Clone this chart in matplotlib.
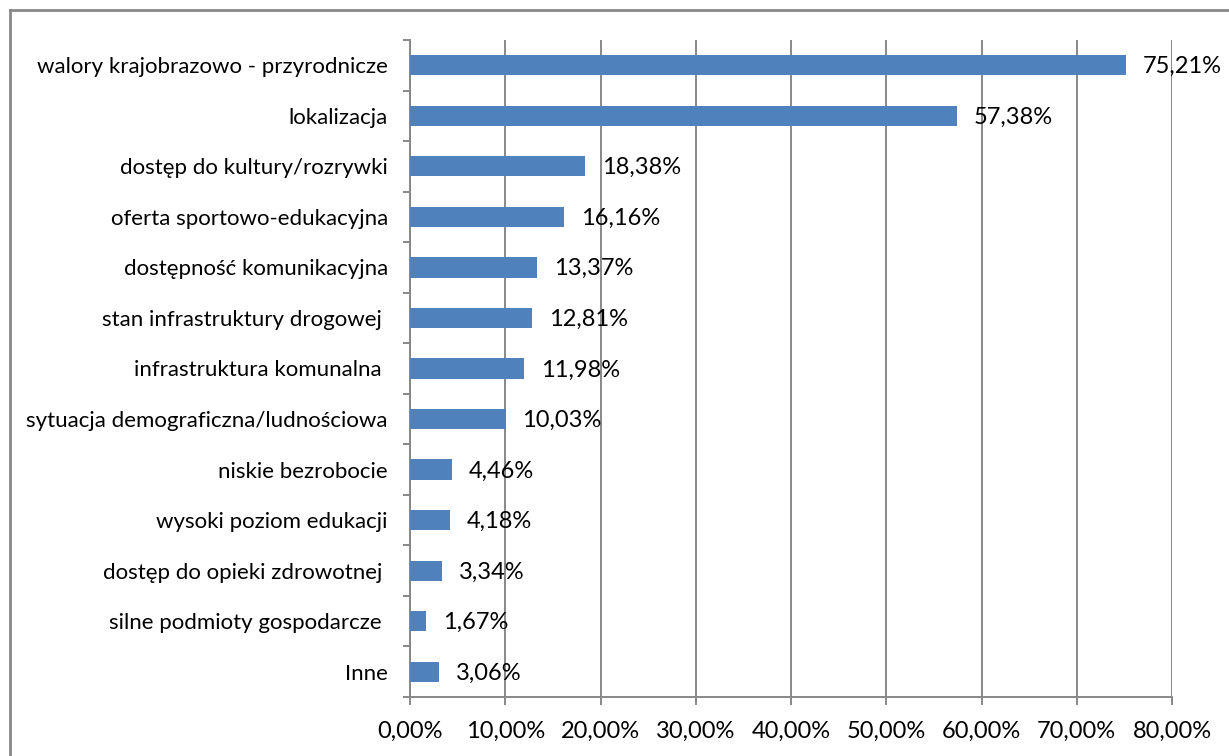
import matplotlib
matplotlib.use('Agg')
import matplotlib.pyplot as plt
from matplotlib.lines import Line2D
from matplotlib.ticker import FixedLocator, FuncFormatter

plt.rcParams['font.family'] = ['Lato', 'DejaVu Sans']

categories = [
    'walory krajobrazowo - przyrodnicze',
    'lokalizacja',
    'dostęp do kultury/rozrywki',
    'oferta sportowo-edukacyjna',
    'dostępność komunikacyjna',
    'stan infrastruktury drogowej ',
    'infrastruktura komunalna ',
    'sytuacja demograficzna/ludnościowa',
    'niskie bezrobocie',
    'wysoki poziom edukacji',
    'dostęp do opieki zdrowotnej ',
    'silne podmioty gospodarcze ',
    'Inne',
]
values = [75.21, 57.38, 18.38, 16.16, 13.37, 12.81, 11.98, 10.03, 4.46, 4.18, 3.34, 1.67, 3.06]

bar_color = '#4F81BD'
grid_color = '#888888'


def pct(v, pos=None):
    return f'{v:.2f}%'.replace('.', ',')


fig = plt.figure(figsize=(12.29, 7.56), dpi=100)
ax = fig.add_axes([410 / 1229, 1 - 697 / 756, 762 / 1229, 657 / 756])

pos = list(range(len(categories)))
ax.barh(pos, values, height=0.4, color=bar_color, zorder=3)
ax.set_ylim(len(categories) - 0.5, -0.5)
ax.set_xlim(0, 80)

ax.set_yticks(pos)
ax.set_yticklabels(categories, fontsize=16)
ax.yaxis.set_minor_locator(FixedLocator([p - 0.5 for p in range(len(categories) + 1)]))
ax.tick_params(axis='y', which='major', length=0, pad=16)
ax.tick_params(axis='y', which='minor', length=5, width=1.4, color=grid_color)

ax.set_xticks(range(0, 81, 10))
ax.xaxis.set_major_formatter(FuncFormatter(pct))
ax.tick_params(axis='x', which='major', length=6, width=1.4, color=grid_color,
               labelsize=17, pad=11)

ax.grid(axis='x', color=grid_color, linewidth=1.4, zorder=0)
for side in ['top', 'right']:
    ax.spines[side].set_visible(False)
for side in ['left', 'bottom']:
    ax.spines[side].set_color(grid_color)
    ax.spines[side].set_linewidth(1.4)

for p, v in zip(pos, values):
    ax.annotate(pct(v), (v, p), xytext=(12, -1), textcoords='offset points',
                va='center', ha='left', fontsize=17, zorder=4)

# outer frame (only left and top edges visible in the image)
fig.add_artist(Line2D([10 / 1229, 10 / 1229], [0, 1 - 10 / 756], transform=fig.transFigure,
                      color=grid_color, linewidth=2))
fig.add_artist(Line2D([10 / 1229, 1], [1 - 10 / 756, 1 - 10 / 756], transform=fig.transFigure,
                      color=grid_color, linewidth=2))

fig.savefig('out.png', dpi=100)
